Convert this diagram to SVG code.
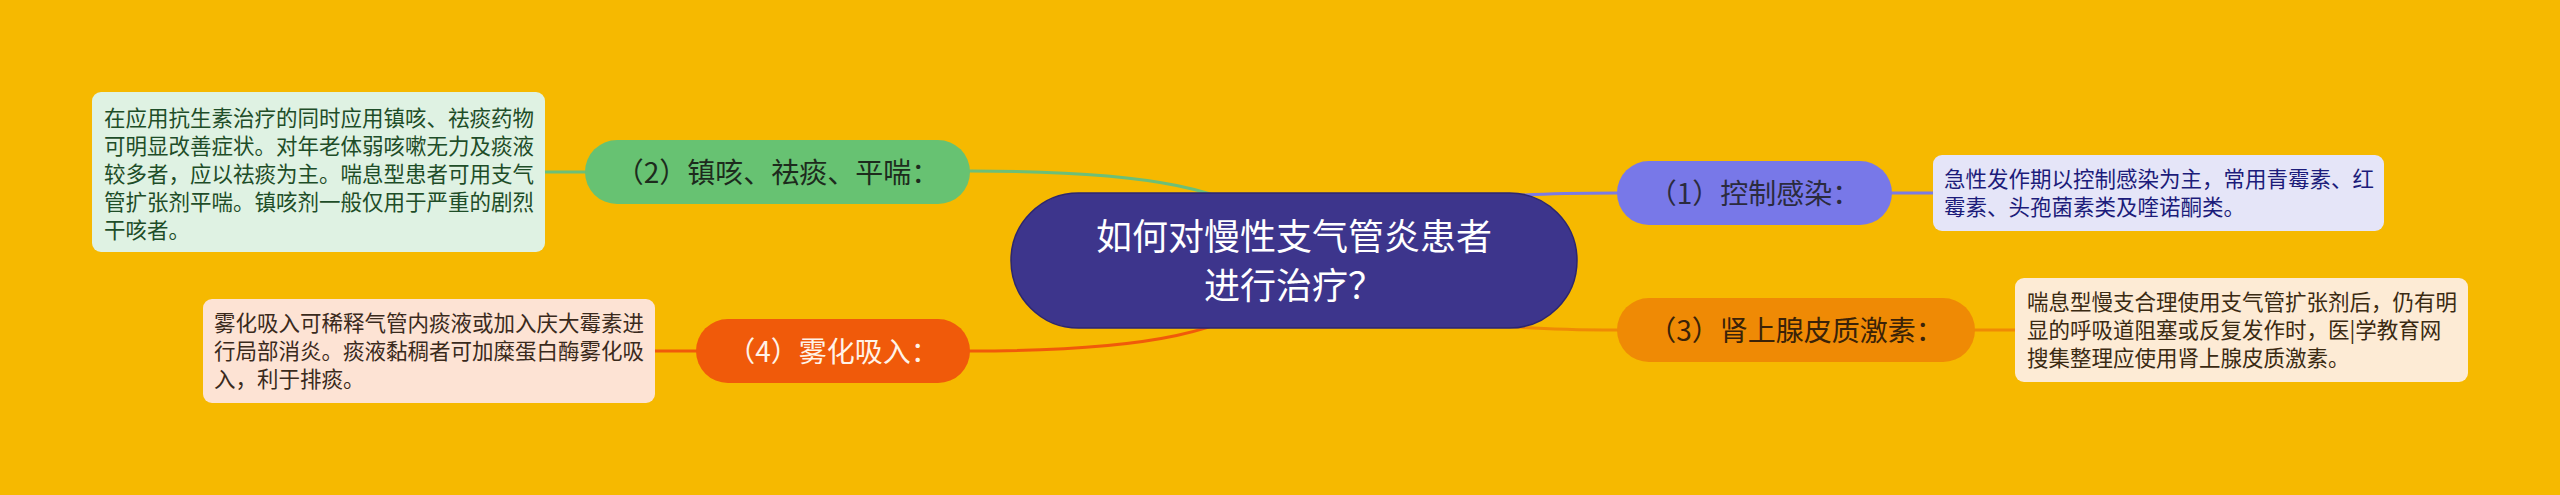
<svg xmlns="http://www.w3.org/2000/svg" width="2560" height="495" viewBox="0 0 2560 495">
<style>
text{font-family:"Noto Sans CJK SC","Noto Sans",sans-serif}
.conn{fill:none;stroke-width:3;stroke-linecap:round}
.node{font-size:28px;text-anchor:middle}
.box{font-size:21.5px}
.root{font-size:36px;text-anchor:middle;fill:#ffffff}
</style>
<rect x="0" y="0" width="2560" height="495" fill="#f6b900"/>
<g id="connectors">
<path class="conn" stroke="#6cbf78" d="M1294 260 C1268 180 1115 171 970 171"/>
<path class="conn" stroke="#6cbf78" d="M585 172 L545 172"/>
<path class="conn" stroke="#7b7be4" d="M1294 260 C1400 200 1480 193 1617 193"/>
<path class="conn" stroke="#7b7be4" d="M1892 193 L1933 193"/>
<path class="conn" stroke="#ef8a05" d="M1294 260 C1400 320 1480 330 1617 330"/>
<path class="conn" stroke="#ef8a05" d="M1975 330 L2015 330"/>
<path class="conn" stroke="#f05a0a" d="M1294 260 C1268 340 1115 351 970 351"/>
<path class="conn" stroke="#f05a0a" d="M696 351 L655 351"/>
</g>
<g id="root">
<rect x="1011" y="193" width="566" height="135" rx="67.5" fill="#3d358c" stroke="#2c2670" stroke-width="1.5"/>
<text class="root" x="1294" y="249.5">如何对慢性支气管炎患者</text>
<text class="root" x="1294" y="298.5">进行治疗？</text>
</g>
<g id="node1">
<rect x="1617" y="161" width="275" height="64" rx="32" fill="#7878e8"/>
<text class="node" x="1754.5" y="203.5" fill="#2b2b3e">（1）控制感染：</text>
</g>
<g id="box1">
<rect x="1933" y="155" width="451" height="76" rx="9" fill="#e5e5f8"/>
<text class="box" fill="#1c1c7a"><tspan x="1944" y="187">急性发作期以控制感染为主，常用青霉素、红</tspan><tspan x="1944" y="215">霉素、头孢菌素类及喹诺酮类。</tspan></text>
</g>
<g id="node2">
<rect x="585" y="140" width="385" height="64" rx="32" fill="#67c272"/>
<text class="node" x="777.5" y="182.5" fill="#1d2b1d">（2）镇咳、祛痰、平喘：</text>
</g>
<g id="box2">
<rect x="92" y="92" width="453" height="160" rx="9" fill="#dff2e3"/>
<text class="box" fill="#1e4d28"><tspan x="104" y="126">在应用抗生素治疗的同时应用镇咳、祛痰药物</tspan><tspan x="104" y="154">可明显改善症状。对年老体弱咳嗽无力及痰液</tspan><tspan x="104" y="182">较多者，应以祛痰为主。喘息型患者可用支气</tspan><tspan x="104" y="210">管扩张剂平喘。镇咳剂一般仅用于严重的剧烈</tspan><tspan x="104" y="238">干咳者。</tspan></text>
</g>
<g id="node3">
<rect x="1617" y="298" width="358" height="64" rx="32" fill="#ef8a05"/>
<text class="node" x="1796" y="340.5" fill="#3a2208">（3）肾上腺皮质激素：</text>
</g>
<g id="box3">
<rect x="2015" y="278" width="453" height="104" rx="9" fill="#fdebd5"/>
<text class="box" fill="#3a2a12"><tspan x="2027" y="310">喘息型慢支合理使用支气管扩张剂后，仍有明</tspan><tspan x="2027" y="338">显的呼吸道阻塞或反复发作时，医|学教育网</tspan><tspan x="2027" y="366">搜集整理应使用肾上腺皮质激素。</tspan></text>
</g>
<g id="node4">
<rect x="696" y="319" width="274" height="64" rx="32" fill="#f05a0a"/>
<text class="node" x="833" y="361.5" fill="#fff3e8">（4）雾化吸入：</text>
</g>
<g id="box4">
<rect x="203" y="299" width="452" height="104" rx="9" fill="#fde3d4"/>
<text class="box" fill="#3a2a1c"><tspan x="214" y="331">雾化吸入可稀释气管内痰液或加入庆大霉素进</tspan><tspan x="214" y="359">行局部消炎。痰液黏稠者可加糜蛋白酶雾化吸</tspan><tspan x="214" y="387">入，利于排痰。</tspan></text>
</g>
</svg>
